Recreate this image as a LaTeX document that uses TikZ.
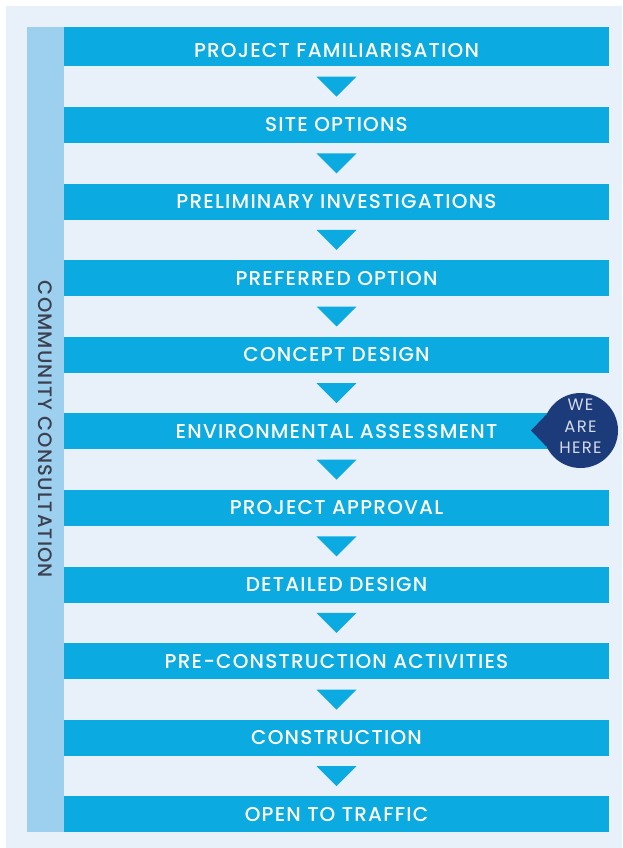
\documentclass[tikz,border=0pt]{standalone}
\usepackage{fontspec}
\setmainfont{Poppins Medium}[LetterSpace=6]
\newfontfamily\herefont{Poppins}[LetterSpace=8]
\usetikzlibrary{calc}
\definecolor{bgblue}{HTML}{E8F0FA}
\definecolor{sidebar}{HTML}{9DCFEF}
\definecolor{stepcyan}{HTML}{0BAAE1}
\definecolor{navy}{HTML}{1B3B7B}
\definecolor{sidetext}{HTML}{3C3F4E}
\definecolor{heretext}{HTML}{D5DAE6}

\begin{document}
\begin{tikzpicture}[x=1pt,y=-1pt]
	\def \barx{336.5}
	\def \barw{545pt}
	\def \barh{36pt}
	\tikzstyle{s-node}=[fill=stepcyan,text=white,minimum width=\barw,minimum height=\barh,inner sep=0pt,font=\fontsize{20}{20}\selectfont]
	\tikzstyle{side-node}=[fill=sidebar,text=sidetext,rotate=-90,minimum width=804.7pt,minimum height=37pt,inner sep=0pt,font=\fontsize{19.5}{19.5}\selectfont]
	\tikzstyle{here-node}=[circle,fill=navy,minimum size=75pt,inner sep=0pt]
	\tikzstyle{tri}=[fill=stepcyan]
	% page
	\useasboundingbox (0,0) rectangle (622,848);
	\fill[bgblue] (6,6) rectangle (622,848);

	% labels
	\node[side-node] (side) at (45.5,429.35) {COMMUNITY CONSULTATION};

	% steps
	\node[s-node,minimum height=39.4pt,text height=21pt,text depth=0pt] (b1) at (\barx,46.7) {PROJECT FAMILIARISATION};
	\node[s-node] (b2)  at (\barx,125.0) {SITE OPTIONS};
	\node[s-node] (b3)  at (\barx,201.6) {PRELIMINARY INVESTIGATIONS};
	\node[s-node] (b4)  at (\barx,278.2) {PREFERRED OPTION};
	\node[s-node] (b5)  at (\barx,354.8) {CONCEPT DESIGN};
	\node[s-node] (b6)  at (\barx,431.4) {ENVIRONMENTAL ASSESSMENT};
	\node[s-node] (b7)  at (\barx,508.0) {PROJECT APPROVAL};
	\node[s-node] (b8)  at (\barx,584.6) {DETAILED DESIGN};
	\node[s-node] (b9)  at (\barx,661.2) {PRE-CONSTRUCTION ACTIVITIES};
	\node[s-node] (b10) at (\barx,737.8) {CONSTRUCTION};
	\node[s-node] (b11) at (\barx,814.4) {OPEN TO TRAFFIC};

	% arrows between steps
	\fill[tri] ($(b1.south)!.5!(b2.north)$) +(-20,-10) -- +(20,-10) -- +(0,10) -- cycle;
	\fill[tri] ($(b2.south)!.5!(b3.north)$) +(-20,-10) -- +(20,-10) -- +(0,10) -- cycle;
	\fill[tri] ($(b3.south)!.5!(b4.north)$) +(-20,-10) -- +(20,-10) -- +(0,10) -- cycle;
	\fill[tri] ($(b4.south)!.5!(b5.north)$) +(-20,-10) -- +(20,-10) -- +(0,10) -- cycle;
	\fill[tri] ($(b5.south)!.5!(b6.north)$) +(-20,-10) -- +(20,-10) -- +(0,10) -- cycle;
	\fill[tri] ($(b6.south)!.5!(b7.north)$) +(-20,-10) -- +(20,-10) -- +(0,10) -- cycle;
	\fill[tri] ($(b7.south)!.5!(b8.north)$) +(-20,-10) -- +(20,-10) -- +(0,10) -- cycle;
	\fill[tri] ($(b8.south)!.5!(b9.north)$) +(-20,-10) -- +(20,-10) -- +(0,10) -- cycle;
	\fill[tri] ($(b9.south)!.5!(b10.north)$) +(-20,-10) -- +(20,-10) -- +(0,10) -- cycle;
	\fill[tri] ($(b10.south)!.5!(b11.north)$) +(-20,-10) -- +(20,-10) -- +(0,10) -- cycle;

	% we are here
	\node[here-node] (here) at (580.5,430.5) {};
	\coordinate (tip) at (531,430.5);
	\fill[navy] (tip) -- (here.155) -- (here.205) -- cycle;
	\node[text=heretext,align=center,font=\herefont\fontsize{16.5}{21.5}\selectfont] (heretxt) at ([yshift=4pt]here.center) {WE\\ARE\\HERE};
\end{tikzpicture}
\end{document}
